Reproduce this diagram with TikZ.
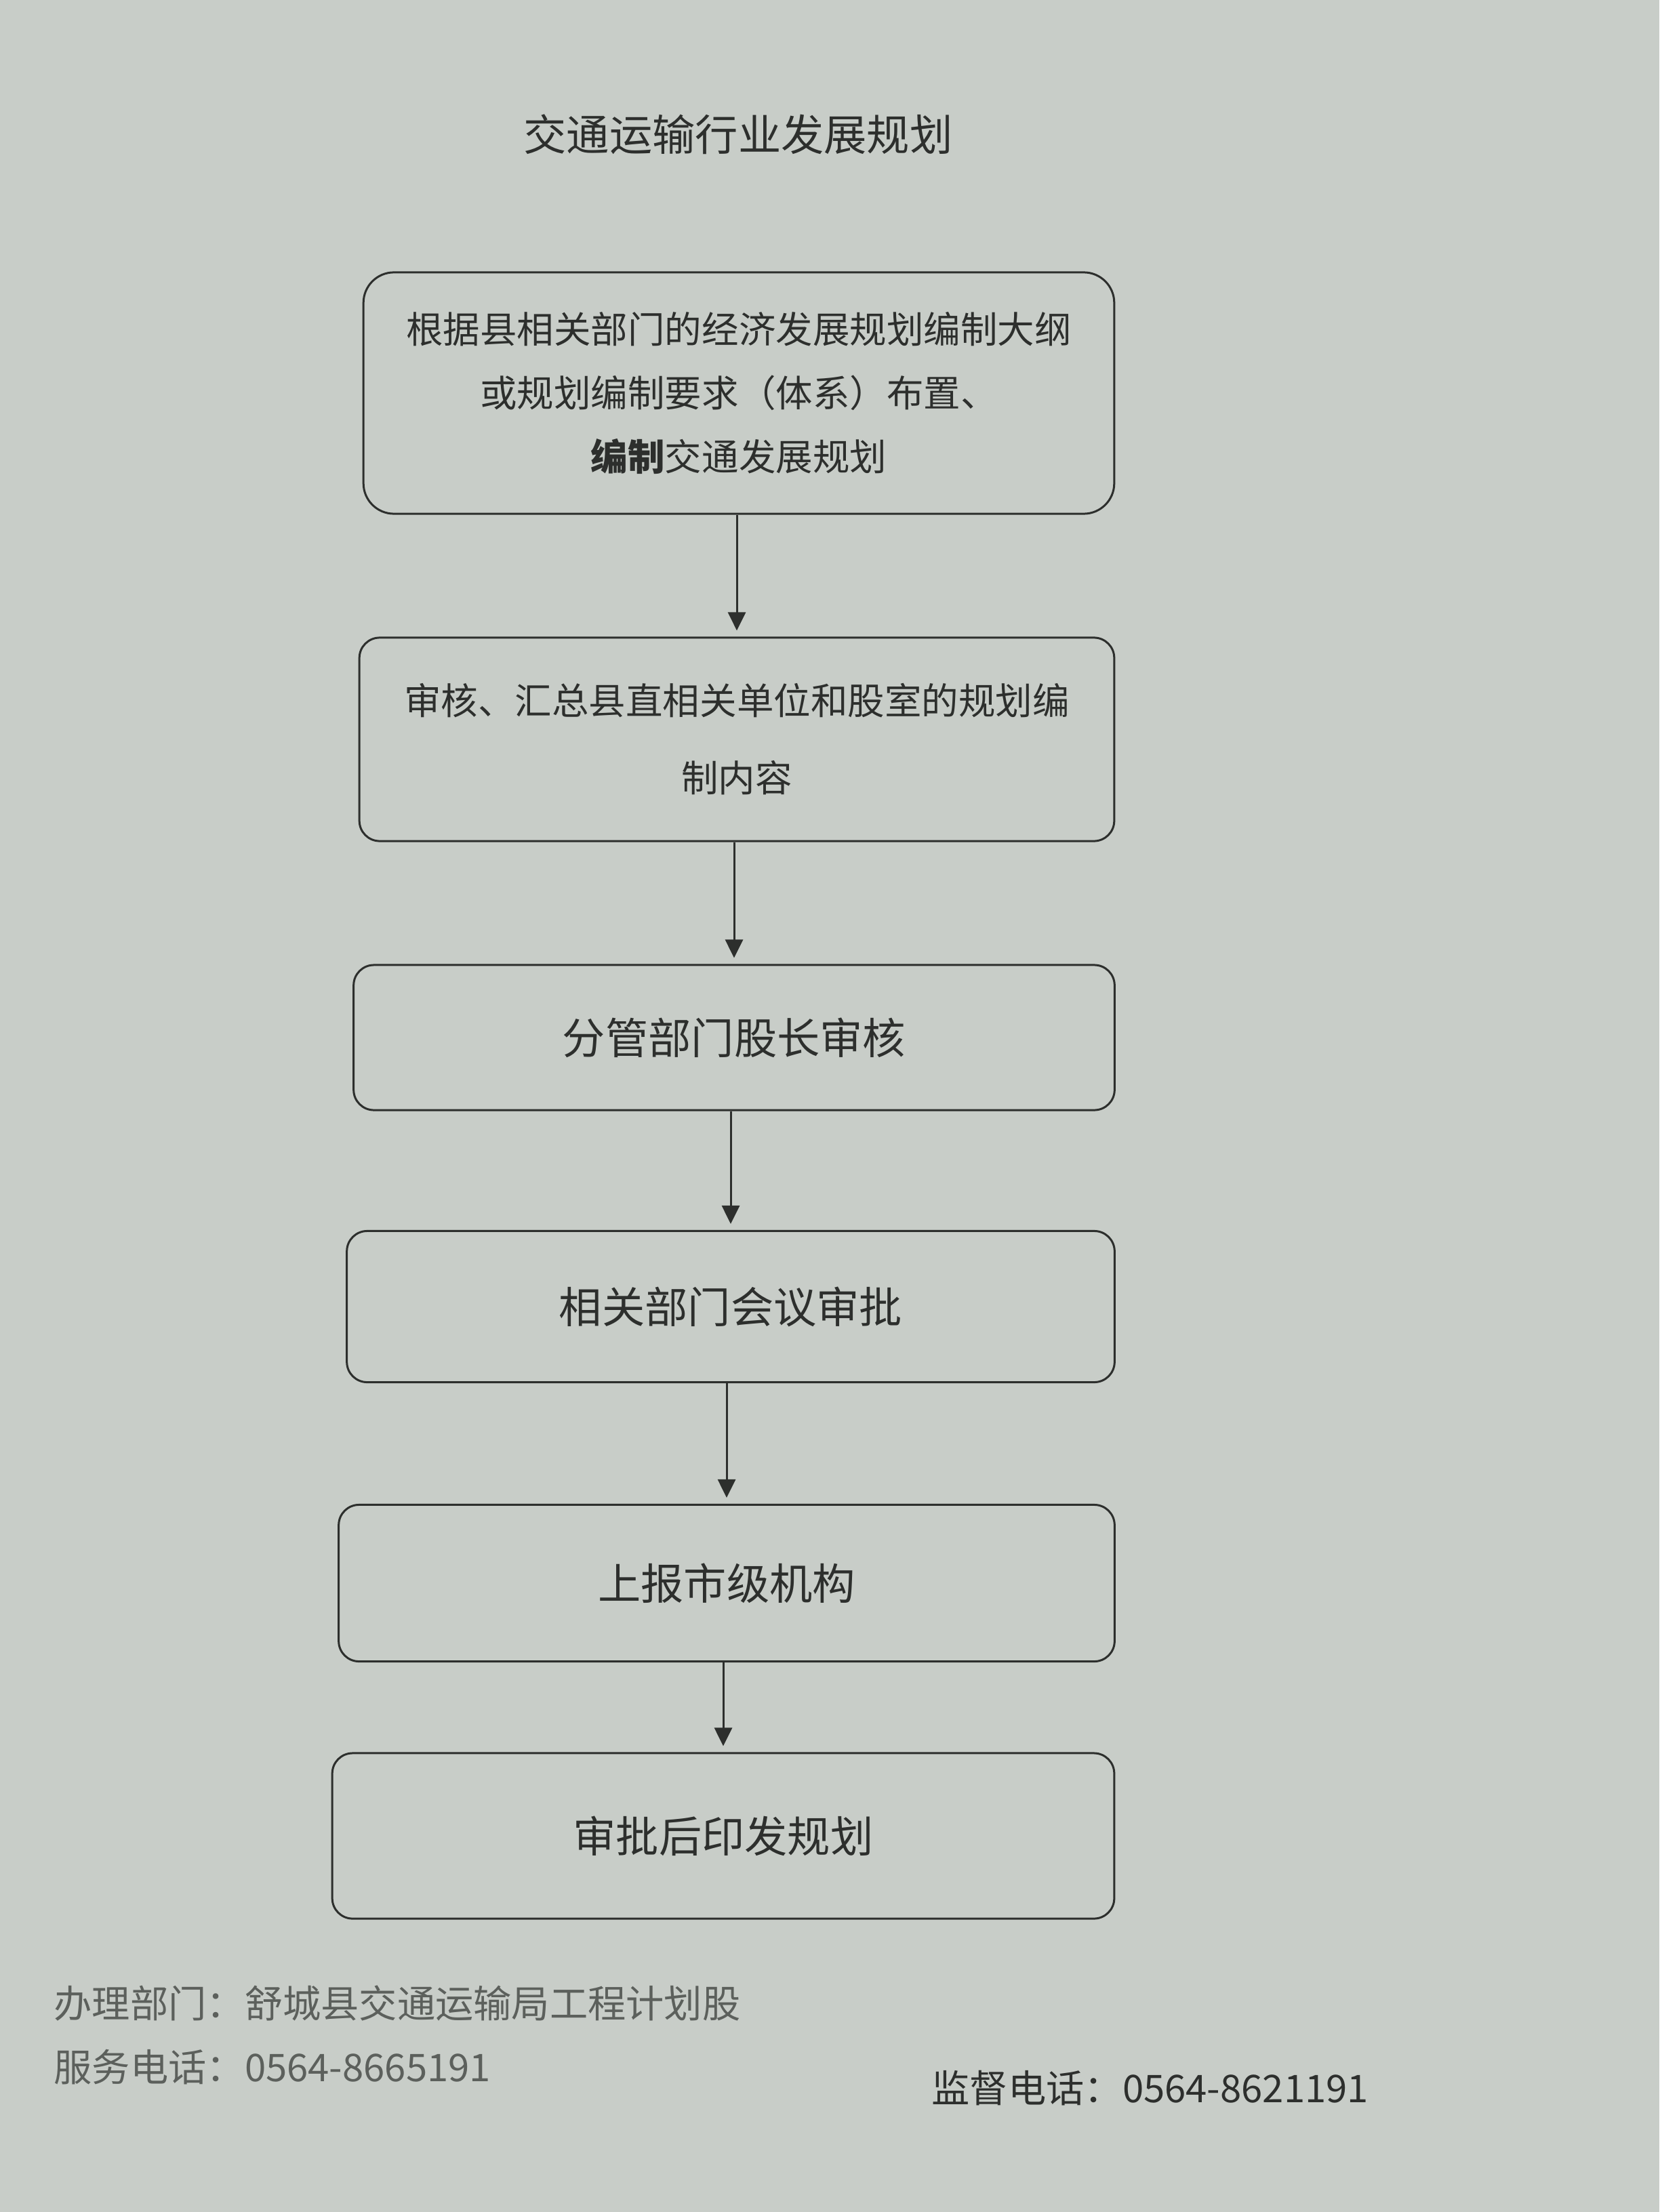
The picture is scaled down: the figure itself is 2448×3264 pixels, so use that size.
\documentclass[tikz,border=0pt]{standalone}
\usepackage{fontspec}
\setmainfont{Noto Sans CJK SC}
\usetikzlibrary{arrows.meta}
\definecolor{paper}{RGB}{200,205,200}
\definecolor{ink}{RGB}{45,47,45}
\definecolor{inkgrey}{RGB}{92,96,92}

\begin{document}
\begin{tikzpicture}[x=0.01cm,y=-0.01cm,
	box/.style={draw=ink,line width=0.03cm,rounded corners=0.3cm,align=center,text=ink,inner sep=0pt},
	flow/.style={draw=ink,line width=0.03cm,-{Triangle[width=0.26cm,length=0.27cm]},shorten >=0.09cm},
	foot/.style={anchor=west,inner sep=0pt,font=\fontsize{16}{20}\selectfont}]
	\fill[paper] (0,0) rectangle (2448,3264);
	\useasboundingbox (0,0) rectangle (2448,3264);

	\node (title) at (1089,198) [text=ink,font=\fontsize{18}{22}\selectfont] {交通运输行业发展规划};

	\node[box,rounded corners=0.45cm,minimum width=11.07cm,minimum height=3.56cm,font=\fontsize{15.5}{26.7}\selectfont] (b1) at (1090,580)
		{根据县相关部门的经济发展规划编制大纲\\或规划编制要求（体系）布置、\\{\bfseries 编制}交通发展规划};
	\node[box,minimum width=11.13cm,minimum height=3.00cm,font=\fontsize{15.5}{32.4}\selectfont] (b2) at (1087,1091)
		{审核、汇总县直相关单位和股室的规划编\\制内容};
	\node[box,minimum width=11.22cm,minimum height=2.14cm,font=\fontsize{18}{22}\selectfont] (b3) at (1083,1531) {分管部门股长审核};
	\node[box,minimum width=11.32cm,minimum height=2.23cm,font=\fontsize{18}{22}\selectfont] (b4) at (1078,1928) {相关部门会议审批};
	\node[box,minimum width=11.44cm,minimum height=2.31cm,font=\fontsize{18}{22}\selectfont] (b5) at (1072,2336) {上报市级机构};
	\node[box,minimum width=11.53cm,minimum height=2.44cm,font=\fontsize{18}{22}\selectfont] (b6) at (1067,2709) {审批后印发规划};

	\draw[flow] (b1.south -| b2) -- (b2.north);
	\draw[flow] (b2.south -| b3) -- (b3.north);
	\draw[flow] (b3.south -| b4) -- (b4.north);
	\draw[flow] (b4.south -| b5) -- (b5.north);
	\draw[flow] (b5.south -| b6) -- (b6.north);

	\node[foot,text=inkgrey] (dept) at (79,2956) {办理部门：舒城县交通运输局工程计划股};
	\node[foot,text=inkgrey] (tel) at (79,3050) {服务电话：0564-8665191};
	\node[foot,text=ink] (supervise) at (1374,3081) {监督电话：0564-8621191};
\end{tikzpicture}
\end{document}
